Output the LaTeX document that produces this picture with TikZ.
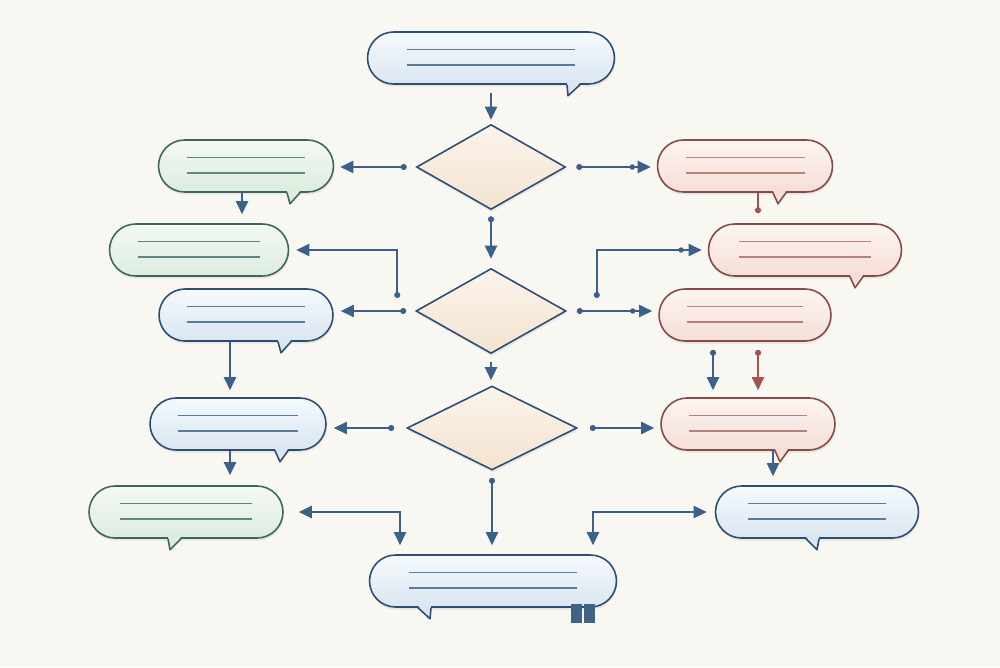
\documentclass[tikz,border=0pt]{standalone}
\usepackage{xcolor}
\usepackage{tikz}
\usetikzlibrary{shapes.geometric, shapes.misc, arrows.meta, calc, shadows}

\definecolor{paper}{HTML}{F8F7F2}
\definecolor{navy}{HTML}{2D4E72}
\definecolor{arrowblue}{HTML}{3B6189}
\definecolor{rust}{HTML}{A3524E}
\definecolor{blueA}{HTML}{F5F9FC}
\definecolor{blueB}{HTML}{DAE6F1}
\definecolor{blueL}{HTML}{5A7B9A}
\definecolor{greenA}{HTML}{F4F9F3}
\definecolor{greenB}{HTML}{DDECDF}
\definecolor{greenE}{HTML}{3E6661}
\definecolor{greenL}{HTML}{5F877D}
\definecolor{pinkA}{HTML}{FDF4F1}
\definecolor{pinkB}{HTML}{F5DED7}
\definecolor{pinkE}{HTML}{864A4A}
\definecolor{pinkL}{HTML}{B5817A}
\definecolor{sandA}{HTML}{FBF4EA}
\definecolor{sandB}{HTML}{F3E3D0}
\definecolor{iconblue}{HTML}{3D6385}

% tail of a speech bubble: node, left offset, tip offset, style
\newcommand{\bubtail}[4]{%
  \fill[#4] ($(#1.south)+(#2,-2)$) -- ($(#1.south)+(#3,11)$) -- ($(#1.south)+(#2+13,-2)$) -- cycle;
  \draw[#4, fill=none] ($(#1.south)+(#2,0)$) -- ($(#1.south)+(#3,11)$) -- ($(#1.south)+(#2+13,0)$);}

\begin{document}
\begin{tikzpicture}[x=0.02cm, y=-0.02cm,
  bub/.style={rounded rectangle, minimum height=1.04cm, inner sep=0pt, line width=0.9pt,
              drop shadow={opacity=0.14, shadow xshift=0.4pt, shadow yshift=-1.5pt}},
  lines/.style={path picture={
    \draw[#1, line width=0.6pt]
      ($(path picture bounding box.west)!0.16!(path picture bounding box.east)+(0cm,0.17cm)$) --
      ($(path picture bounding box.west)!0.84!(path picture bounding box.east)+(0cm,0.17cm)$)
      ($(path picture bounding box.west)!0.16!(path picture bounding box.east)+(0cm,-0.14cm)$) --
      ($(path picture bounding box.west)!0.84!(path picture bounding box.east)+(0cm,-0.14cm)$);}},
  bluebub/.style={bub, draw=navy, top color=blueA, bottom color=blueB, lines=blueL},
  greenbub/.style={bub, draw=greenE, top color=greenA, bottom color=greenB, lines=greenL},
  pinkbub/.style={bub, draw=pinkE, top color=pinkA, bottom color=pinkB, lines=pinkL},
  bluetail/.style={color=navy, fill=blueB, line width=0.9pt, line join=round},
  greentail/.style={color=greenE, fill=greenB, line width=0.9pt, line join=round},
  pinktail/.style={color=pinkE, fill=pinkB, line width=0.9pt, line join=round},
  dec/.style={diamond, draw=navy, line width=0.9pt, inner sep=0pt, top color=sandA, bottom color=sandB,
              drop shadow={opacity=0.14, shadow xshift=0.4pt, shadow yshift=-1.5pt}},
  arr/.style={arrowblue, line width=1.1pt, -{Triangle[length=2.6mm, width=2.4mm]}},
  darr/.style={arr, {Circle[length=1.2mm]}-{Triangle[length=2.6mm, width=2.4mm]}},
  dblarr/.style={arr, {Triangle[length=2.6mm, width=2.4mm]}-{Triangle[length=2.6mm, width=2.4mm]}},
  tip/.style={circle, fill=arrowblue, inner sep=0pt, minimum size=1.1mm}]

\path[use as bounding box, fill=paper] (0,0) rectangle (1000,667);

\node[bluebub, minimum width=4.94cm] (start) at (491,58) {};
\node[dec, minimum width=2.98cm, minimum height=1.7cm] (d1) at (491,167) {};
\node[greenbub, minimum width=3.5cm] (g1) at (246,166) {};
\node[pinkbub, minimum width=3.5cm] (p1) at (745,166) {};
\node[greenbub, minimum width=3.58cm] (g2) at (199,250) {};
\node[pinkbub, minimum width=3.86cm] (p2) at (805,250) {};
\node[dec, minimum width=3cm, minimum height=1.7cm] (d2) at (491,311) {};
\node[bluebub, minimum width=3.48cm] (b2) at (246,315) {};
\node[pinkbub, minimum width=3.44cm] (p3) at (745,315) {};
\node[dec, minimum width=3.4cm, minimum height=1.68cm] (d3) at (492,428) {};
\node[bluebub, minimum width=3.52cm] (b3) at (238,424) {};
\node[pinkbub, minimum width=3.48cm] (p4) at (748,424) {};
\node[greenbub, minimum width=3.88cm] (g3) at (186,512) {};
\node[bluebub, minimum width=4.06cm] (b4) at (817,512) {};
\node[bluebub, minimum width=4.94cm] (finish) at (493,581) {};

\bubtail{start}{76}{77}{bluetail}
\bubtail{g1}{41}{44}{greentail}
\bubtail{p1}{28}{33}{pinktail}
\bubtail{p2}{45}{50}{pinktail}
\bubtail{b2}{32}{35}{bluetail}
\bubtail{b3}{37}{42}{bluetail}
\bubtail{p4}{27}{32}{pinktail}
\bubtail{g3}{-18}{-16}{greentail}
\bubtail{b4}{-11}{0}{bluetail}
\bubtail{finish}{-75}{-63}{bluetail}

\fill[iconblue] ($(finish.south)+(78,-4)$) rectangle ++(11,19);
\fill[iconblue] ($(finish.south)+(91,-4)$) rectangle ++(11,19);

\coordinate (g1o) at ($(g1.south)+(-4,0)$);
\coordinate (p1o) at ($(p1.south)+(13,0)$);
\coordinate (e1) at ($(d2.west)+(-18,-13)$);
\coordinate (e2) at ($(d2.east)+(30,-13)$);
\coordinate (b2o) at ($(b2.south)+(-16,0)$);
\coordinate (p3a) at ($(p3.south)+(-32,0)$);
\coordinate (p3b) at ($(p3.south)+(13,0)$);
\coordinate (b3o) at ($(b3.south)+(-8,0)$);
\coordinate (p4o) at ($(p4.south)+(25,0)$);
\coordinate (f1) at ($(finish.north)+(-93,0)$);
\coordinate (f2) at ($(finish.north)+(100,0)$);

\draw[arr, shorten <=0.16cm, shorten >=0.08cm] (start.south) -- (d1.north);
\draw[darr, shorten <=0.18cm, shorten >=0.12cm] (d1.west) -- (d1.west -| g1.east);
\draw[darr, shorten <=0.2cm, shorten >=0.12cm] (d1.east) -- node[tip, pos=0.73] (m1) {} (d1.east -| p1.west);
\draw[arr, shorten >=0.18cm] (g1o) -- (g1o |- g2.north);
\draw[rust, line width=1.1pt, -{Circle[length=1.2mm]}, shorten >=0.2cm] (p1o) -- (p1o |- p2.north);
\draw[darr, shorten <=0.12cm, shorten >=0.18cm] (d1.south) -- (d2.north);
\draw[darr, shorten >=0.14cm] (e1) |- (g2.east);
\draw[darr, shorten >=0.12cm] (e2) |- node[tip, pos=0.88] (m2) {} (p2.west);
\draw[darr, shorten <=0.18cm, shorten >=0.14cm] (d2.west) -- (d2.west -| b2.east);
\draw[darr, shorten <=0.2cm, shorten >=0.12cm] (d2.east) -- node[tip, pos=0.72] (m3) {} (d2.east -| p3.west);
\draw[arr, shorten <=0.16cm, shorten >=0.1cm] (d2.south) -- (d2.south |- d3.north);
\draw[arr, shorten >=0.14cm] (b2o) -- (b2o |- b3.north);
\draw[darr, shorten <=0.16cm, shorten >=0.14cm] (p3a) -- (p3a |- p4.north);
\draw[darr, rust, shorten <=0.16cm, shorten >=0.14cm] (p3b) -- (p3b |- p4.north);
\draw[darr, shorten <=0.24cm, shorten >=0.14cm] (d3.west) -- (d3.west -| b3.east);
\draw[darr, shorten <=0.24cm, shorten >=0.12cm] (d3.east) -- (d3.east -| p4.west);
\draw[arr, shorten >=0.2cm] (b3o) -- (b3o |- g3.north);
\draw[arr, shorten >=0.18cm] (p4o) -- (p4o |- b4.north);
\draw[darr, shorten <=0.14cm, shorten >=0.18cm] (d3.south) -- (d3.south |- finish.north);
\draw[dblarr, shorten <=0.3cm, shorten >=0.18cm] (g3.east) -| (f1);
\draw[dblarr, shorten <=0.16cm, shorten >=0.18cm] (b4.west) -| (f2);
\end{tikzpicture}
\end{document}
